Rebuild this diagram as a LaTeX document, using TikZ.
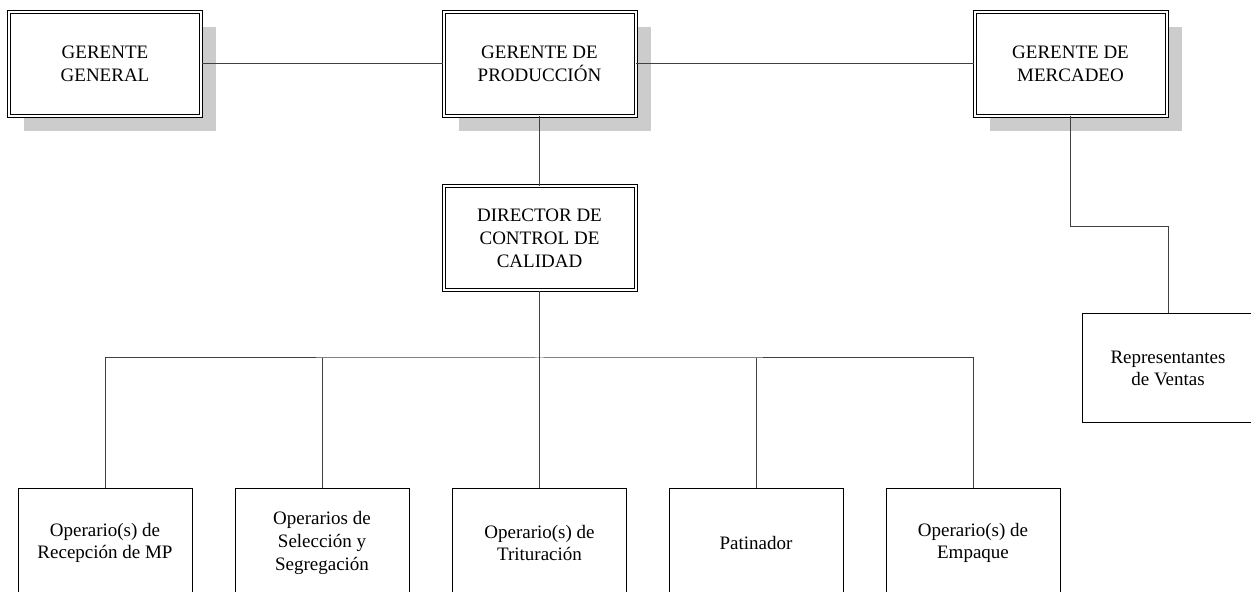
\documentclass[tikz,border=0pt]{standalone}
\usepackage{fontspec}
\setmainfont{Liberation Serif}
\usetikzlibrary{shadows}

\begin{document}
\begin{tikzpicture}[x=0.5pt,y=-0.5pt,
	jefe/.style={draw,double,double distance=1pt,line width=0.5pt,fill=white,
		minimum width=96pt,minimum height=52pt,align=center,
		font=\fontsize{9.5}{11.4}\selectfont},
	sombra/.style={drop shadow={shadow xshift=7.5pt,shadow yshift=-7.5pt,fill=black!20,opacity=1}},
	operario/.style={draw,line width=0.5pt,fill=white,
		minimum width=87pt,minimum height=55pt,align=center,
		font=\fontsize{9.5}{11.4}\selectfont},
	linea/.style={draw=black!75,line width=0.5pt}]
			\clip (0,0) rectangle (1251,592);
			\node[jefe,sombra] (gg) at (105,64) {GERENTE\\GENERAL};
			\node[jefe,sombra] (gp) at (539.5,64) {GERENTE DE\\PRODUCCIÓN};
			\node[jefe,sombra] (gm) at (1070.5,64) {GERENTE DE\\MERCADEO};
			\node[jefe] (dir) at (539.5,238.5) {DIRECTOR DE\\CONTROL DE\\CALIDAD};
			\node[operario] (op1) at (105,543) {Operario(s) de\\Recepción de MP};
			\node[operario] (op2) at (322,543) {Operarios de\\Selección y\\Segregación};
			\node[operario] (op3) at (539.5,543) {Operario(s) de\\Trituración};
			\node[operario] (op4) at (756,543) {Patinador};
			\node[operario] (op5) at (973,543) {Operario(s) de\\Empaque};
			\node[operario,minimum width=86pt,minimum height=54.5pt] (rep) at (1168,368.5) {Representantes\\de Ventas};
			\coordinate (bus) at (539.5,358);
			% lineas
			\draw[linea] (gg.east) -- (gp.west);
			\draw[linea] (gp.east) -- (gm.west);
			\draw[linea] (gp.south) -- (dir.north);
			\draw[linea] (dir.south) -- (bus);
			\draw[linea] (op1.north) |- (bus) -| (op5.north);
			\draw[linea] (op2.north) -- (op2.north |- bus);
			\draw[linea] (op3.north) -- (op3.north |- bus);
			\draw[linea] (op4.north) -- (op4.north |- bus);
			\draw[linea] (gm.south) -- ++(0,110) -| (rep.north);
\end{tikzpicture}
\end{document}
